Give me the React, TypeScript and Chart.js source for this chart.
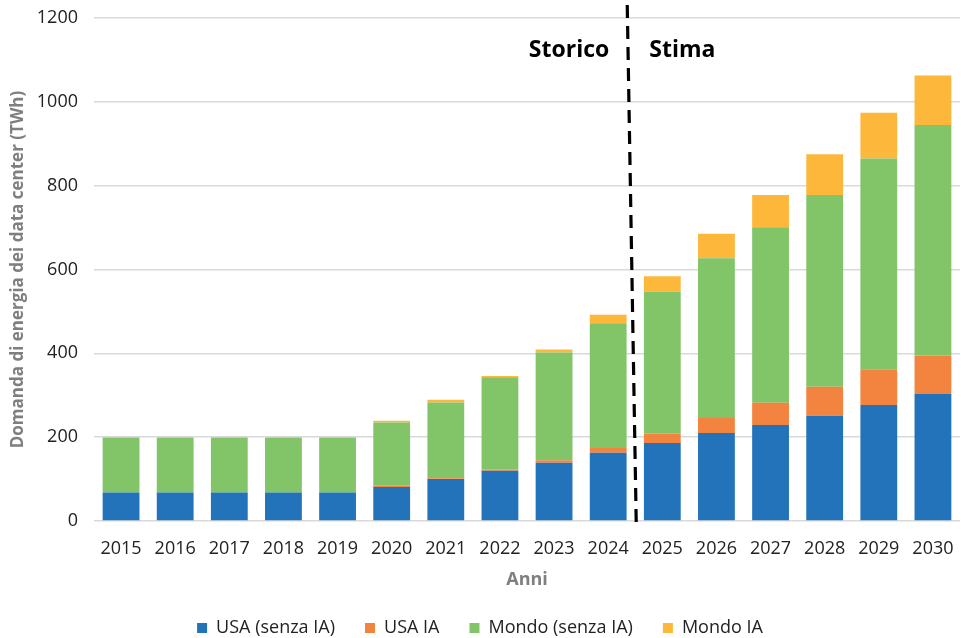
import React, { useEffect, useRef } from "react";
import { Chart, registerables } from "chart.js";

Chart.register(...registerables);

const years = ["2015","2016","2017","2018","2019","2020","2021","2022","2023","2024","2025","2026","2027","2028","2029","2030"];
const usaNoAI = [68, 68, 68, 68, 68, 81, 100, 120, 139, 163, 186, 210, 229, 251, 277, 303];
const usaAI = [0, 0, 0, 0, 0, 3, 2, 3, 6, 11, 23, 36, 53, 69, 85, 92];
const worldNoAI = [131, 131, 131, 131, 131, 151, 181, 220, 257, 298, 338, 381, 419, 458, 503, 550];
const worldAI = [0, 0, 0, 0, 0, 4, 6, 3, 7, 20, 37, 58, 77, 97, 109, 118];
const seriesNames = ["USA (senza IA)", "USA IA", "Mondo (senza IA)", "Mondo IA"];
const seriesColors = ["#2273BA", "#F2843F", "#82C568", "#FDB83C"];
const yTicks = [0, 200, 400, 600, 800, 1000, 1200];
const labelHistoric = "Storico";
const labelForecast = "Stima";
const splitAfter = "2024";

const FONT = "'Open Sans', 'Liberation Sans', sans-serif";

const dividerPlugin = {
  id: "divider",
  afterDatasetsDraw(chart: any) {
    const { ctx, scales, chartArea } = chart;
    const x = scales.x;
    const i = years.indexOf(splitAfter);
    const mid = (x.getPixelForValue(i) + x.getPixelForValue(i + 1)) / 2;
    ctx.save();
    ctx.strokeStyle = "#000";
    ctx.lineWidth = 3.2;
    ctx.setLineDash([13, 8]);
    ctx.beginPath();
    ctx.moveTo(mid - 8, chartArea.top - 13);
    ctx.lineTo(mid + 1, chartArea.bottom + 3);
    ctx.stroke();
    ctx.setLineDash([]);
    ctx.fillStyle = "#000";
    ctx.font = "bold 23px " + FONT;
    ctx.textBaseline = "middle";
    ctx.textAlign = "right";
    ctx.fillText(labelHistoric, mid - 26, chartArea.top + 32);
    ctx.textAlign = "left";
    ctx.fillText(labelForecast, mid + 14, chartArea.top + 32);
    ctx.restore();
  },
};

export default function App() {
  const ref = useRef<HTMLCanvasElement | null>(null);
  useEffect(() => {
    document.body.style.margin = "0";
    const data = [usaNoAI, usaAI, worldNoAI, worldAI];
    const chart = new Chart(ref.current as HTMLCanvasElement, {
      type: "bar",
      data: {
        labels: years,
        datasets: data.map((d, k) => ({
          label: seriesNames[k],
          data: d,
          backgroundColor: seriesColors[k],
          borderWidth: 0,
          categoryPercentage: 0.68,
          barPercentage: 1,
        })),
      },
      options: {
        animation: false,
        responsive: false,
        layout: { padding: { top: 18, right: 1, bottom: -9, left: 0 } },
        plugins: {
          tooltip: { enabled: false },
          legend: {
            position: "bottom",
            labels: {
              boxWidth: 10,
              boxHeight: 10,
              padding: 30,
              color: "#222",
              font: { family: FONT, size: 18 },
            },
          },
        },
        scales: {
          x: {
            stacked: true,
            grid: { display: false },
            border: { display: false },
            afterFit: (s: any) => { s.height = 68; s.paddingLeft = 0; s.paddingRight = 0; },
            ticks: { color: "#222", font: { family: FONT, size: 18 }, padding: 9, maxRotation: 0 },
            title: { display: true, text: "Anni", color: "#7f7f7f", font: { family: FONT, size: 18, weight: "bold" }, padding: { top: 0, bottom: -2 } },
          },
          y: {
            stacked: true,
            min: 0,
            max: 1200,
            afterBuildTicks: (s: any) => { s.ticks = yTicks.map((v) => ({ value: v })); },
            afterFit: (s: any) => { s.width = 94; s.paddingTop = 0; s.paddingBottom = 0; },
            grid: { color: "#d9d9d9", lineWidth: 1.5, drawTicks: false },
            border: { display: false },
            ticks: { color: "#222", font: { family: FONT, size: 18 }, padding: 16, callback: (v: any) => String(v) },
            title: { display: true, text: "Domanda di energia dei data center (TWh)", color: "#7f7f7f", font: { family: FONT, size: 17, weight: "bold" }, padding: { top: 8, bottom: 0 } },
          },
        },
      },
      plugins: [dividerPlugin],
    });
    return () => chart.destroy();
  }, []);
  return (
    <div style={{ width: 961, height: 638, background: "#fff" }}>
      <canvas ref={ref} width={961} height={638} />
    </div>
  );
}
